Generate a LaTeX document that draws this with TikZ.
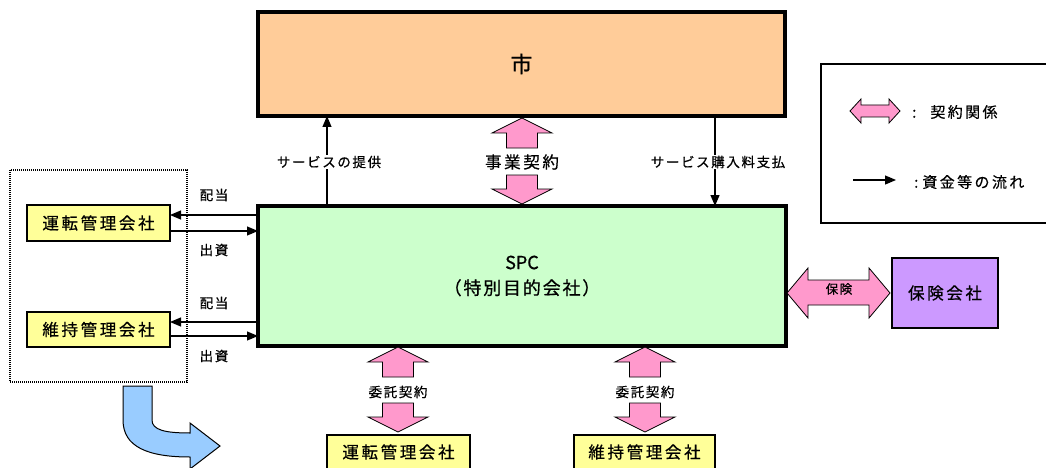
\documentclass[tikz,border=0pt]{standalone}
\usepackage{fontspec}
\setmainfont[FakeBold=0.6]{Noto Sans CJK JP}
\newfontfamily\jpS[LetterSpace=12,FakeBold=0.6]{Noto Sans CJK JP}
\newfontfamily\jpM[LetterSpace=16,FakeBold=0.6]{Noto Sans CJK JP}
\newfontfamily\jpL[LetterSpace=10,FakeBold=0.6]{Noto Sans CJK JP}
\usetikzlibrary{arrows.meta,calc}
\definecolor{cityfill}{HTML}{FFCC99}
\definecolor{spcfill}{HTML}{CCFFCC}
\definecolor{yelfill}{HTML}{FFFF99}
\definecolor{purfill}{HTML}{CC99FF}
\definecolor{pinkfill}{HTML}{FF99CC}
\definecolor{bluefill}{HTML}{99CCFF}
\tikzset{
  bigbox/.style={draw, line width=4pt, rectangle, inner sep=0pt, outer sep=0pt},
  smallbox/.style={draw, line width=2.5pt, rectangle, inner sep=0pt, outer sep=0pt,
    font=\jpM\fontsize{16.5}{18}\selectfont},
  lbl/.style={inner sep=1pt, font=\jpS\fontsize{13.5}{15}\selectfont},
  flow/.style={line width=1.2pt, -{Triangle[length=11pt,width=9pt]}},
  pinkarrow/.style={draw=black, line width=0.8pt, fill=pinkfill, line join=miter},
  pics/uparr/.style={code={\path[pinkarrow] (0,0) -- (30,15) -- (15.5,15) -- (15.5,30) -- (-15.5,30) -- (-15.5,15) -- (-30,15) -- cycle;}},
  pics/downarr/.style={code={\path[pinkarrow] (0,0) -- (30,-15) -- (15.5,-15) -- (15.5,-29) -- (-15.5,-29) -- (-15.5,-15) -- (-30,-15) -- cycle;}},
}
\begin{document}
\begin{tikzpicture}[x=1pt,y=-1pt]
\useasboundingbox (0,0) rectangle (1046,468);
% main boxes
\node[bigbox, fill=cityfill, minimum width=527pt, minimum height=104pt,
  font=\fontsize{22}{24}\selectfont] (city) at (521.5,64) {市};
\node[bigbox, fill=spcfill, minimum width=528pt, minimum height=140pt,
  align=center, font=\jpL\fontsize{18}{25.5}\selectfont] (spc) at (522,276)
  {{\fontspec[FakeBold=0.6]{Noto Sans CJK JP}SPC}\\（特別目的会社）};
% left dotted group
\node[draw, line width=1.5pt, dash pattern=on 1pt off 1pt, rectangle,
  minimum width=177pt, minimum height=212pt] (group) at (98.5,276) {};
\node[smallbox, fill=yelfill, minimum width=143pt, minimum height=36pt] (op1) at (98.5,223) {運転管理会社};
\node[smallbox, fill=yelfill, minimum width=143pt, minimum height=35pt] (mt1) at (98.5,329.5) {維持管理会社};
% bottom boxes
\node[smallbox, fill=yelfill, minimum width=143pt, minimum height=34pt] (op2) at (398.5,452) {運転管理会社};
\node[smallbox, fill=yelfill, minimum width=141pt, minimum height=34pt] (mt2) at (644.5,452) {維持管理会社};
% insurance
\node[smallbox, fill=purfill, minimum width=106pt, minimum height=70pt] (ins) at (945,293) {保険会社};
% legend box
\node[draw, line width=2pt, rectangle, minimum width=239pt, minimum height=159pt] (legend) at (940.5,143.5) {};

% flows between left companies and SPC
\draw[flow] (spc.west |- 0,215) -- (op1.east |- 0,215);
\draw[flow] (op1.east |- 0,231) -- (spc.west |- 0,231);
\draw[flow] (spc.west |- 0,322) -- (mt1.east |- 0,322);
\draw[flow] (mt1.east |- 0,336) -- (spc.west |- 0,336);
\node[lbl] (l1) at (214,195) {配当};
\node[lbl] (l2) at (214,250) {出資};
\node[lbl] (l3) at (214,303) {配当};
\node[lbl] (l4) at (214,356) {出資};

% flows between SPC and city
\draw[flow] (spc.north -| 327,0) -- (city.south -| 327,0);
\node[lbl, fill=white] (svc) at (329,162) {サービスの提供};
\draw[flow] (city.south -| 715,0) -- (spc.north -| 715,0);
\node[lbl, fill=white] (pay) at (718,162) {サービス購入料支払};

% contract arrows city - SPC
\pic at (522,118) {uparr};
\pic at (522,204) {downarr};
\node[inner sep=1pt, font=\jpM\fontsize{16.5}{18}\selectfont] (biz) at (522,162) {事業契約};

% contract arrows SPC - bottom companies
\pic at (398,347) {uparr};
\pic at (398,432) {downarr};
\node[lbl] (c1) at (398,392) {委託契約};
\pic at (645,347) {uparr};
\pic at (645,432) {downarr};
\node[lbl] (c2) at (645,392) {委託契約};

% insurance double arrow
\path[pinkarrow] (787,293) -- (808,268) -- (808,280) -- (869,280) -- (869,268) -- (890,293)
  -- (869,318) -- (869,305) -- (808,305) -- (808,318) -- cycle;
\node[lbl, font=\jpS\fontsize{12.5}{14}\selectfont] (insl) at (839,289) {保険};

% legend
\path[pinkarrow] (850,111) -- (861,99) -- (861,105) -- (889,105) -- (889,99) -- (900,111)
  -- (889,123) -- (889,117) -- (861,117) -- (861,123) -- cycle;
\node[anchor=west, inner sep=0pt, font=\fontsize{15}{17}\selectfont] (lg1) at (912,112) {:\hspace{14pt}{\jpM 契約関係}};
\coordinate (lgs) at (853,180);
\coordinate (lge) at (896,180);
\draw[flow] (lgs) -- (lge);
\node[anchor=west, inner sep=0pt, font=\fontsize{15}{17}\selectfont] (lg2) at (914,182) {:\hspace{4pt}{\jpM 資金等の流れ}};

% blue curved arrow
\path[draw=black, line width=1pt, fill=bluefill, line join=miter]
  (123,386) -- (152,386) -- (152,420) .. controls (152,430) and (165,433) .. (190,433)
  -- (190,423) -- (220,446) -- (190,469) -- (190,457)
  .. controls (148,457) and (123,447) .. (123,420) -- cycle;
\end{tikzpicture}
\end{document}
